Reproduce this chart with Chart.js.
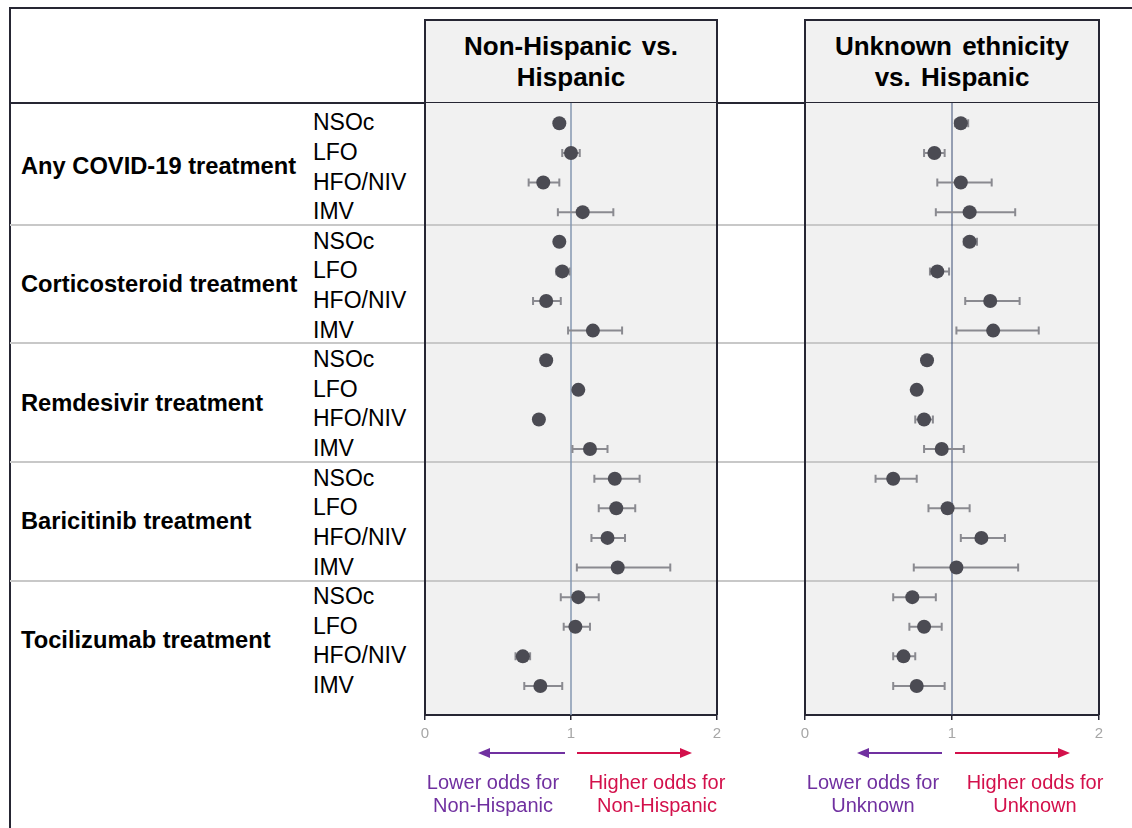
<!DOCTYPE html>
<html>
<head>
<meta charset="utf-8">
<script src="https://cdn.jsdelivr.net/npm/chart.js@4.4.1/dist/chart.umd.min.js"></script>
<style>
  html, body { margin: 0; padding: 0; background: #fff; }
  body { width: 1132px; height: 828px; position: relative; overflow: hidden;
         font-family: "Liberation Sans", Arial, sans-serif; color: #000; }
  .abs { position: absolute; }
  .rule { position: absolute; background: #262633; }
  .sep { position: absolute; background: #c8c8c8; height: 2px; }
  .head { position: absolute; box-sizing: border-box; border: 2px solid #262633;
          background: #f1f1f1; display: flex; align-items: center; justify-content: center;
          text-align: center; font-weight: bold; font-size: 26px; line-height: 31px; word-spacing: 3px; }
  .grp { position: absolute; left: 21px; font-weight: bold; font-size: 23.7px;
         line-height: 26px; height: 26px; margin-top: -15px; white-space: nowrap; }
  .lvl { position: absolute; left: 313px; font-size: 23px; line-height: 26px;
         height: 26px; margin-top: -14px; white-space: nowrap; }
  .note { position: absolute; width: 200px; text-align: center; font-size: 20px; line-height: 23px; }
  .wrap { position: absolute; }
</style>
</head>
<body>

<div class="rule" style="left:10px;top:7px;width:1122px;height:2px"></div>
<div class="rule" style="left:9px;top:7px;width:2px;height:821px"></div>
<div class="rule" style="left:10px;top:102px;width:1089px;height:2px"></div>

<div id="seps"></div>
<div id="labels"></div>

<div class="head" style="left:424px;top:19px;width:294px;height:85px">Non-Hispanic vs.<br>Hispanic</div>
<div class="head" style="left:804px;top:19px;width:296px;height:85px">Unknown ethnicity<br>vs. Hispanic</div>

<div class="wrap" style="left:415px;top:93px"><canvas id="left" width="312" height="660"></canvas></div>
<div class="wrap" style="left:795px;top:93px"><canvas id="right" width="314" height="660"></canvas></div>

<svg class="abs" style="left:0;top:0;pointer-events:none" width="1132" height="828">
  <line x1="565" y1="753" x2="486" y2="753" stroke="#7030a0" stroke-width="2"/>
  <polygon points="478,753 490,748 490,758" fill="#7030a0"/>
  <line x1="577" y1="753" x2="684" y2="753" stroke="#d3104b" stroke-width="2"/>
  <polygon points="692,753 680,748 680,758" fill="#d3104b"/>
  <line x1="942" y1="753" x2="865" y2="753" stroke="#7030a0" stroke-width="2"/>
  <polygon points="857,753 869,748 869,758" fill="#7030a0"/>
  <line x1="955" y1="753" x2="1062" y2="753" stroke="#d3104b" stroke-width="2"/>
  <polygon points="1070,753 1058,748 1058,758" fill="#d3104b"/>
</svg>

<div class="note" style="left:393px;top:771px;color:#7030a0">Lower odds for<br>Non-Hispanic</div>
<div class="note" style="left:557px;top:771px;color:#d3104b">Higher odds for<br>Non-Hispanic</div>
<div class="note" style="left:773px;top:771px;color:#7030a0">Lower odds for<br>Unknown</div>
<div class="note" style="left:935px;top:771px;color:#d3104b">Higher odds for<br>Unknown</div>

<script>
// treatment groups and oxygen levels (rows are group x level, top to bottom)
const groups = ['Any COVID-19 treatment', 'Corticosteroid treatment', 'Remdesivir treatment',
                'Baricitinib treatment', 'Tocilizumab treatment'];
const levels = ['NSOc', 'LFO', 'HFO/NIV', 'IMV'];
const xTicks = [0, 1, 2];

// Non-Hispanic vs. Hispanic: odds ratio and 95% CI
const nonHispOR = [0.92, 1.00, 0.81, 1.08,  0.92, 0.94, 0.83, 1.15,  0.83, 1.05, 0.78, 1.13,
                   1.30, 1.31, 1.25, 1.32,  1.05, 1.03, 0.67, 0.79];
const nonHispLo = [0.90, 0.94, 0.71, 0.91,  0.90, 0.90, 0.74, 0.98,  0.81, 1.03, 0.76, 1.01,
                   1.16, 1.19, 1.14, 1.04,  0.93, 0.95, 0.62, 0.68];
const nonHispHi = [0.94, 1.06, 0.92, 1.29,  0.94, 0.99, 0.93, 1.35,  0.85, 1.07, 0.80, 1.25,
                   1.47, 1.44, 1.37, 1.68,  1.19, 1.13, 0.72, 0.94];

// Unknown ethnicity vs. Hispanic
const unknownOR = [1.06, 0.88, 1.06, 1.12,  1.12, 0.90, 1.26, 1.28,  0.83, 0.76, 0.81, 0.93,
                   0.60, 0.97, 1.20, 1.03,  0.73, 0.81, 0.67, 0.76];
const unknownLo = [1.02, 0.81, 0.90, 0.89,  1.08, 0.85, 1.09, 1.03,  0.81, 0.74, 0.75, 0.81,
                   0.48, 0.84, 1.06, 0.74,  0.60, 0.71, 0.60, 0.60];
const unknownHi = [1.11, 0.95, 1.27, 1.43,  1.17, 0.98, 1.46, 1.59,  0.85, 0.78, 0.87, 1.08,
                   0.76, 1.12, 1.36, 1.45,  0.89, 0.93, 0.75, 0.95];

const nRows = groups.length * levels.length;
// group dividers sit a little below each group's last row
const dividers = [3.42, 7.43, 11.44, 15.45];

const panelPlugin = {
  id: 'panel',
  beforeDraw(chart) {
    const { ctx, chartArea: a, scales: { y } } = chart;
    ctx.save();
    ctx.fillStyle = '#f1f1f1';
    ctx.fillRect(a.left, a.top, a.right - a.left, a.bottom - a.top);
    ctx.strokeStyle = '#c8c8c8';
    ctx.lineWidth = 2;
    dividers.forEach(v => {
      const py = Math.round(y.getPixelForValue(v));
      ctx.beginPath(); ctx.moveTo(0, py); ctx.lineTo(a.right, py); ctx.stroke();
    });
    ctx.restore();
  },
  beforeDatasetsDraw(chart, args, opts) {
    const { ctx, chartArea: a, scales: { x } } = chart;
    ctx.save();
    // reference line at OR = 1
    const px = x.getPixelForValue(1);
    ctx.strokeStyle = opts.refColor;
    ctx.lineWidth = opts.refWidth;
    ctx.beginPath(); ctx.moveTo(px, a.top); ctx.lineTo(px, a.bottom); ctx.stroke();
    // confidence intervals
    ctx.strokeStyle = '#8a8a90';
    ctx.lineWidth = 2;
    chart.data.datasets.forEach((ds, di) => {
      chart.getDatasetMeta(di).data.forEach((pt, i) => {
        const x0 = x.getPixelForValue(ds.lo[i]);
        const x1 = x.getPixelForValue(ds.hi[i]);
        const py = pt.y;
        ctx.beginPath();
        ctx.moveTo(x0, py); ctx.lineTo(x1, py);
        ctx.moveTo(x0, py - 4); ctx.lineTo(x0, py + 4);
        ctx.moveTo(x1, py - 4); ctx.lineTo(x1, py + 4);
        ctx.stroke();
      });
    });
    ctx.restore();
  },
  afterDatasetsDraw(chart) {
    const { ctx, chartArea: a } = chart;
    ctx.save();
    ctx.strokeStyle = '#262633';
    ctx.lineWidth = 2;
    ctx.beginPath();
    ctx.moveTo(a.left, a.top); ctx.lineTo(a.left, a.bottom);
    ctx.moveTo(a.right, a.top); ctx.lineTo(a.right, a.bottom);
    ctx.stroke();
    ctx.restore();
  }
};

function makePanel(id, or, lo, hi, refColor, refWidth) {
  return new Chart(document.getElementById(id), {
    type: 'scatter',
    data: {
      datasets: [{
        data: or.map((v, i) => ({ x: v, y: i })),
        lo: lo,
        hi: hi,
        backgroundColor: '#4b4b53',
        borderWidth: 0,
        pointRadius: 7,
        pointHoverRadius: 7
      }]
    },
    options: {
      responsive: false,
      animation: false,
      layout: { padding: { left: 10, right: 10, top: 10, bottom: 8 } },
      plugins: {
        legend: { display: false },
        tooltip: { enabled: false },
        panel: { refColor: refColor, refWidth: refWidth }
      },
      scales: {
        x: {
          type: 'linear',
          min: xTicks[0],
          max: xTicks[xTicks.length - 1],
          afterBuildTicks: s => { s.ticks = xTicks.map(v => ({ value: v })); },
          afterFit: s => { s.height = 30; },
          grid: { drawOnChartArea: false, drawTicks: true, tickLength: 5, color: '#262633', lineWidth: 1.5 },
          border: { display: true, color: '#262633', width: 2 },
          ticks: { color: '#a6a6a6', font: { family: '"Liberation Sans", Arial', size: 15 }, padding: 5 }
        },
        y: {
          type: 'linear',
          reverse: true,
          min: -0.686,
          max: 19.98,
          display: false
        }
      }
    },
    plugins: [panelPlugin]
  });
}

const leftChart = makePanel('left', nonHispOR, nonHispLo, nonHispHi, '#8497b0', 1.5);
const rightChart = makePanel('right', unknownOR, unknownLo, unknownHi, '#3b4d74', 1);

// table labels and full-width dividers, positioned from the chart's row scale
const yScale = leftChart.scales.y;
const canvasTop = 93;
const labelBox = document.getElementById('labels');
for (let i = 0; i < nRows; i++) {
  const d = document.createElement('div');
  d.className = 'lvl';
  d.style.top = (canvasTop + yScale.getPixelForValue(i)) + 'px';
  d.textContent = levels[i % levels.length];
  labelBox.appendChild(d);
}
groups.forEach((g, k) => {
  const d = document.createElement('div');
  d.className = 'grp';
  d.style.top = (canvasTop + yScale.getPixelForValue(k * levels.length + 1.5)) + 'px';
  d.textContent = g;
  labelBox.appendChild(d);
});
const sepBox = document.getElementById('seps');
dividers.forEach(v => {
  const d = document.createElement('div');
  d.className = 'sep';
  d.style.left = '10px';
  d.style.width = '1089px';
  d.style.top = (canvasTop + Math.round(yScale.getPixelForValue(v)) - 1) + 'px';
  sepBox.appendChild(d);
});
</script>
</body>
</html>
